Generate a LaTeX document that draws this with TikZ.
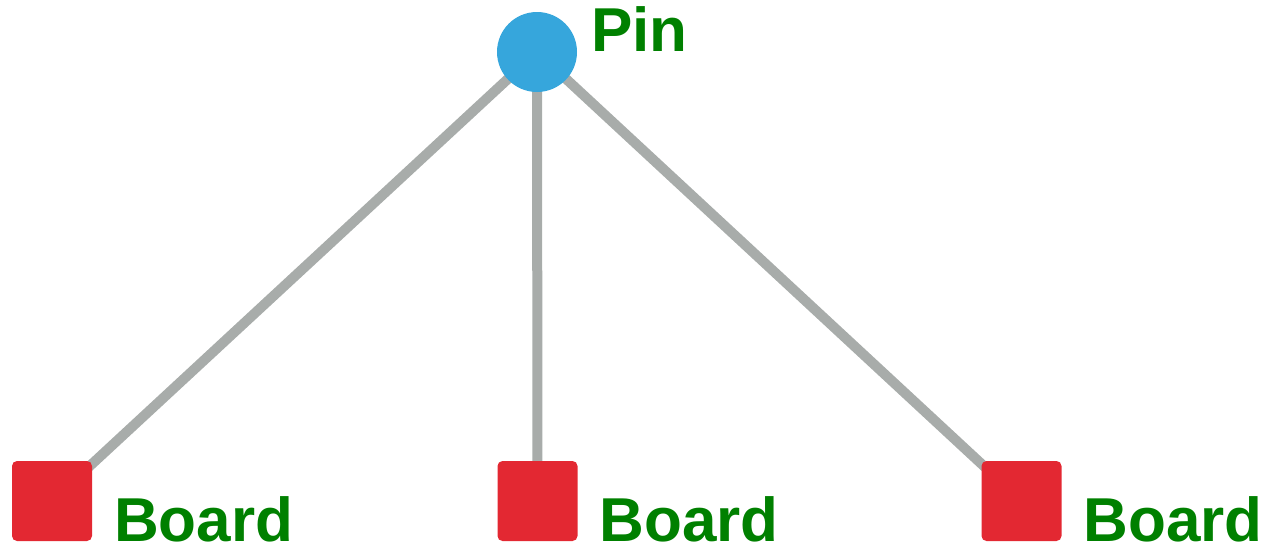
\documentclass[tikz,border=0pt]{standalone}
\usepackage{fontspec}
\setmainfont{Liberation Sans}
\usetikzlibrary{backgrounds}
\definecolor{pinblue}{HTML}{36A6DC}
\definecolor{boardred}{HTML}{E32832}
\definecolor{taggreen}{HTML}{008000}
\definecolor{wiregray}{HTML}{A8ACAA}

\begin{document}
\begin{tikzpicture}[x=1pt, y=-1pt,
    pinnode/.style={circle, fill=pinblue, minimum size=80pt, inner sep=0pt},
    boardnode/.style={rectangle, rounded corners=5pt, fill=boardred, minimum size=80pt, inner sep=0pt},
    tag/.style={font=\fontsize{62}{62}\selectfont\bfseries, text=taggreen, anchor=base west, inner sep=0pt},
    wire/.style={draw=wiregray, line width=10pt}]
  \useasboundingbox (0,0) rectangle (1269,549);
  % pin on top
  \node[pinnode] (pin) at (537,52) {};
  \node[tag] (pinlabel) at (591,51) {Pin};
  % three boards along the bottom
  \foreach \n/\x in {1/52,2/537.5,3/1021.5}{
    \node[boardnode] (board\n) at (\x,501) {};
    \node[tag] (boardlabel\n) at (\x+62,541) {Board};
  }
  % wires behind the nodes
  \begin{pgfonlayer}{background}
    \foreach \n in {1,2,3}
      \draw[wire] (pin.center) -- (board\n.center);
  \end{pgfonlayer}
\end{tikzpicture}
\end{document}
